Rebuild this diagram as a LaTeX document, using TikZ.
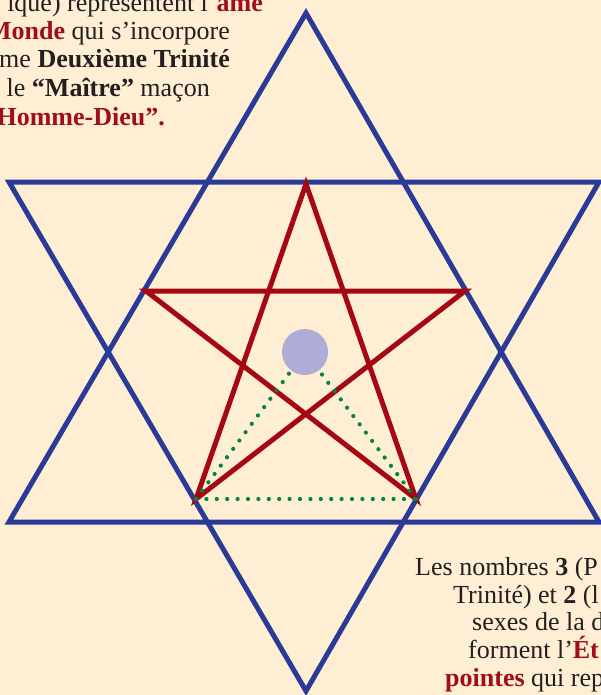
\documentclass[tikz,border=0pt]{standalone}
\usepackage{fontspec}
\setmainfont{Liberation Serif}[BoldFont={Liberation Serif Bold}]
\definecolor{bg}{RGB}{254,238,212}
\definecolor{hexblue}{RGB}{43,58,150}
\definecolor{pentred}{RGB}{165,8,18}
\definecolor{txtred}{RGB}{160,14,26}
\definecolor{txtdark}{RGB}{35,31,32}
\definecolor{dotgreen}{RGB}{0,132,74}
\definecolor{lavender}{RGB}{176,172,216}
\begin{document}
\begin{tikzpicture}[x=1pt,y=-1pt,
  hexline/.style={draw=hexblue,line width=5pt,line join=miter},
  pentline/.style={draw=pentred,line width=5pt,line join=miter},
  dotline/.style={draw=dotgreen,line width=4.2pt,line cap=round,dash pattern=on 0pt off 10.4pt},
  txt/.style={inner sep=0pt,text=txtdark,font=\fontsize{26}{28}\selectfont}]
\newcommand{\rb}[1]{\textcolor{txtred}{\textbf{#1}}}
\useasboundingbox (0,0) rectangle (601,695);
\fill[bg] (0,0) rectangle (601,695);
\clip (0,0) rectangle (601,695);
% hexagram vertices
\coordinate (ht) at (306,13);
\coordinate (ul) at (9,182);
\coordinate (ur) at (599,182);
\coordinate (bl) at (9,522);
\coordinate (br) at (599,522);
\coordinate (bb) at (306,691);
% pentagram vertices
\coordinate (pt) at (306,184);
\coordinate (pl) at (146,291);
\coordinate (pr) at (465,291);
\coordinate (pbl) at (196,499);
\coordinate (pbr) at (416,499);
\coordinate (cc) at (305,352);
% texts
\node[txt,anchor=base east] (a1) at (263,12) {ique) représentent l’\rb{âme}};
\node[txt,anchor=base east] (a2) at (230,40) {\rb{Monde} qui s’incorpore};
\node[txt,anchor=base east] (a3) at (230,68) {me \textbf{Deuxième Trinité}};
\node[txt,anchor=base east] (a4) at (210,97) {le \textbf{“Maître”} maçon};
\node[txt,anchor=base east] (a5) at (165,126) {\rb{“Homme-Dieu”.}};
\node[txt,anchor=base west] (b1) at (415,575) {Les nombres \textbf{3} (P};
\node[txt,anchor=base west] (b2) at (453,603) {Trinité) et \textbf{2} (l};
\node[txt,anchor=base west] (b3) at (472,630) {sexes de la d};
\node[txt,anchor=base west] (b4) at (468,658) {forment l’\rb{Ét}};
\node[txt,anchor=base west] (b5) at (445,686) {\rb{pointes} qui rep};
% hexagram: upward and downward triangles
\path[hexline] (ht) -- (br) -- (bl) -- cycle;
\path[hexline] (ul) -- (ur) -- (bb) -- cycle;
% pentagram
\path[pentline] (pt) -- (pbl) -- (pr) -- (pl) -- (pbr) -- cycle;
% dotted triangle
\path[dotline] (pbl) -- (pbr);
\path[dotline] (pbr) -- (cc);
\path[dotline] (pbl) -- (cc);
% circle
\node[circle,fill=lavender,minimum size=46pt,inner sep=0pt] (c) at (cc) {};
\end{tikzpicture}
\end{document}
